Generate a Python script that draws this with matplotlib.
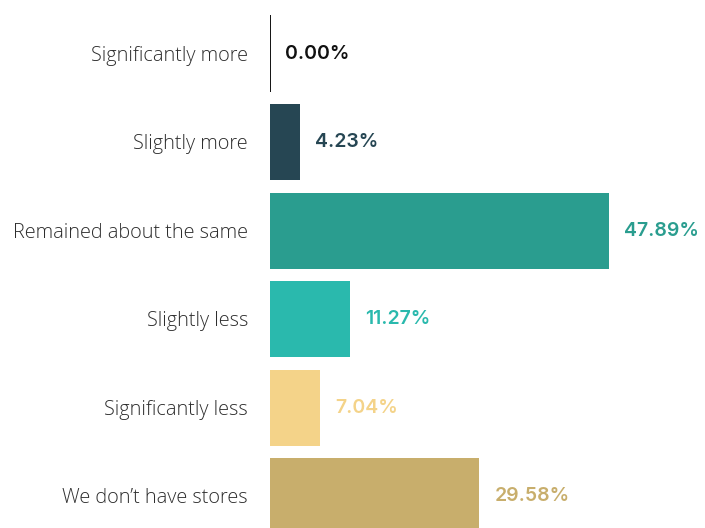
import matplotlib
matplotlib.use('Agg')
import matplotlib.pyplot as plt

categories = ["Significantly more", "Slightly more", "Remained about the same",
              "Slightly less", "Significantly less", "We don\u2019t have stores"]
values = [0.00, 4.23, 47.89, 11.27, 7.04, 29.58]
colors = ["#111111", "#264653", "#2a9d8f", "#2ab9ad", "#f4d389", "#c8ae6c"]

fig = plt.figure(figsize=(7.05, 5.28), dpi=100)
# axes start at the bar baseline (x=270 px) and span to the right edge
ax = fig.add_axes([270 / 705, 0, 435 / 705, 1])
ax.set_xlim(0, 435 / 7.08)
ax.set_ylim(5.36, -0.605)

pos = list(range(len(categories)))
bars = ax.barh(pos, values, height=0.86, color=colors, clip_on=True)
# zero-width bar shows as a thin black line
bars[0].set_edgecolor(colors[0])
bars[0].set_linewidth(1.4)

ax.axis('off')

label_font = dict(family=['Open Sans', 'DejaVu Sans'], fontweight='light', fontsize=14.3, color='#2e2e2e')
value_font = dict(family=['Inter', 'DejaVu Sans'], fontweight='semibold', fontsize=14)

for i, (cat, val, col) in enumerate(zip(categories, values, colors)):
    ax.annotate(cat, xy=(0, i), xytext=(-22, -2), textcoords='offset pixels',
                ha='right', va='center', **label_font, annotation_clip=False)
    ax.annotate(f"{val:.2f}%", xy=(val, i), xytext=(15, 0), textcoords='offset pixels',
                ha='left', va='center', color=col, **value_font, annotation_clip=False)

fig.savefig('out.png', dpi=100, facecolor='white')
plt.close(fig)
